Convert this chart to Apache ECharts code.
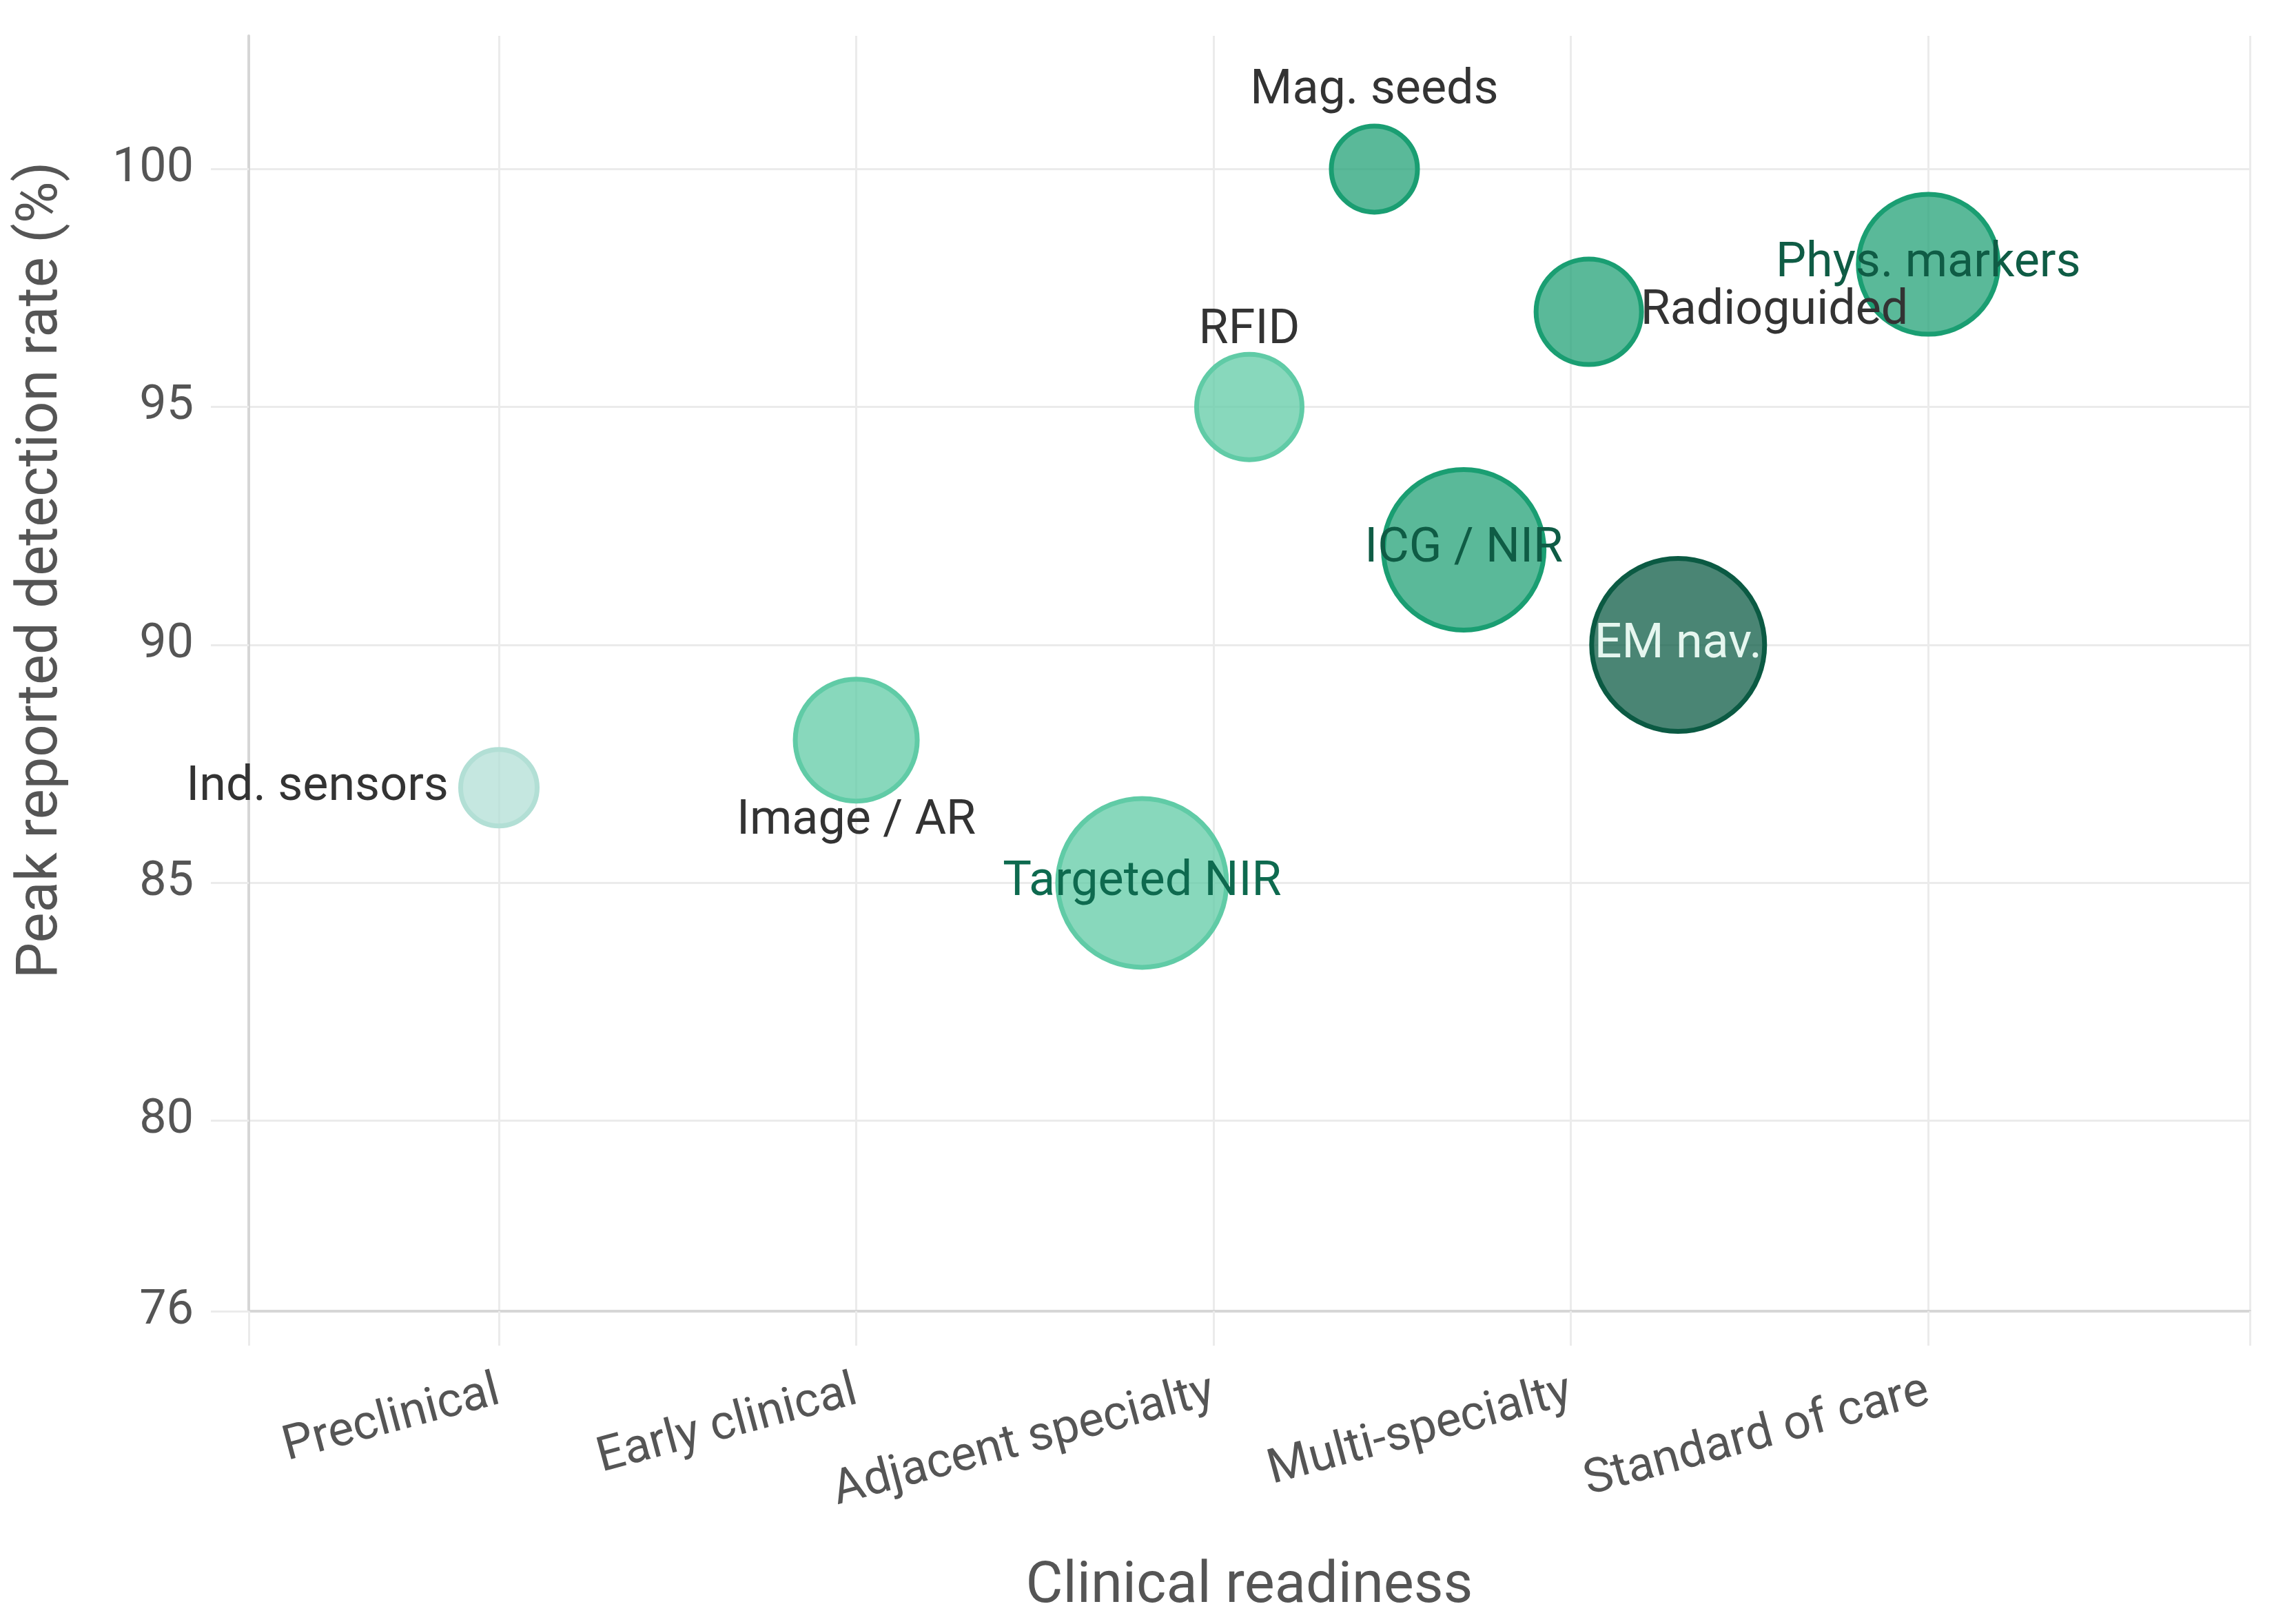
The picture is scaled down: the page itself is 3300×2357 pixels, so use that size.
<!DOCTYPE html>
<html>
<head>
<meta charset="utf-8">
<title>Detection rate vs clinical readiness</title>
<script src="https://cdn.jsdelivr.net/npm/echarts@6/dist/echarts.min.js"></script>
<style>
  html, body { margin: 0; padding: 0; background: #ffffff; }
  #chart { width: 3300px; height: 2357px; }
</style>
</head>
<body>
<div id="chart"></div>
<script>
// Technologies, in drawing order
const techNames = ['Ind. sensors', 'Image / AR', 'Targeted NIR', 'RFID', 'Mag. seeds',
                   'ICG / NIR', 'Radioguided', 'EM nav.', 'Phys. markers'];
// Position on the readiness scale (1 = Preclinical ... 5 = Standard of care)
const readiness = [1.0, 2.0, 2.8, 3.1, 3.45, 3.7, 4.05, 4.3, 5.0];
// Peak reported detection rate (%)
const detection = [87, 88, 85, 95, 100, 92, 97, 90, 98];
// Relative evidence weight (drives bubble size)
const evidence = [11.1, 17.7, 24.5, 15.3, 12.5, 23.3, 15.3, 25.1, 20.3];
// Maturity tier (drives bubble colour)
const maturityTier = [0, 1, 1, 1, 2, 2, 2, 3, 2];

const readinessLabels = ['Preclinical', 'Early clinical', 'Adjacent specialty', 'Multi-specialty', 'Standard of care'];
const readinessTicks = [1, 2, 3, 4, 5];
const detectionTicks = [76, 80, 85, 90, 95, 100];

// --- styling -----------------------------------------------------------
const FONT = 'Roboto';
const tierColor = ['#b2dfd5', '#60cba6', '#1a9e72', '#0b5a43'];
const tierFill  = ['rgba(178,223,213,0.75)', 'rgba(96,203,166,0.75)', 'rgba(26,158,114,0.72)', 'rgba(11,90,67,0.74)'];
const tierInsideText = ['#0e6a4f', '#0e6a4f', '#0f5c45', '#e6f6ef'];
const SIZE_SCALE = 10;
const GRID_COLOR = '#ebebeb';
const AXIS_COLOR = '#d6d6d6';

// where each bubble's label sits, and how far from the bubble
const labelPlacement = {
    'Ind. sensors': ['left', 14],
    'Image / AR': ['bottom', -9],
    'Targeted NIR': ['inside', 0],
    'RFID': ['top', -5],
    'Mag. seeds': ['top', 12],
    'ICG / NIR': ['inside', 0],
    'Radioguided': ['right', -5],
    'EM nav.': ['inside', 0],
    'Phys. markers': ['inside', 0]
};

const points = techNames.map((name, i) => {
    const tier = maturityTier[i];
    const [pos, dist] = labelPlacement[name];
    return {
        name: name,
        value: [readiness[i], detection[i], evidence[i]],
        itemStyle: {
            color: tierFill[tier],
            borderColor: tierColor[tier],
            borderWidth: 7,
            opacity: 1
        },
        label: {
            position: pos,
            distance: dist,
            color: pos === 'inside' ? tierInsideText[tier] : '#333333'
        }
    };
});

const chart = echarts.init(document.getElementById('chart'), null, { renderer: 'canvas' });

const option = {
    animation: false,
    backgroundColor: '#ffffff',
    grid: {
        left: 361,
        right: 35,
        top: 52,
        bottom: 454,
        containLabel: false,
        outerBoundsMode: 'none'
    },
    xAxis: {
        type: 'value',
        min: 0.3,
        max: 5.9,
        name: 'Clinical readiness',
        nameLocation: 'middle',
        nameGap: 360,
        nameTextStyle: { fontFamily: FONT, fontSize: 83, color: '#555555' },
        axisLine: { show: true, lineStyle: { color: AXIS_COLOR, width: 4 } },
        axisTick: {
            show: true,
            customValues: [0.3].concat(readinessTicks, [5.9]),
            length: 50,
            lineStyle: { color: GRID_COLOR, width: 3 }
        },
        axisLabel: {
            customValues: readinessTicks,
            formatter: v => readinessLabels[Math.round(v) - 1] || '',
            rotate: 15,
            margin: 116,
            fontFamily: FONT,
            fontSize: 70,
            color: '#555555'
        },
        splitLine: { show: true, lineStyle: { color: GRID_COLOR, width: 3 } }
    },
    yAxis: {
        type: 'value',
        min: 76,
        max: 102.8,
        name: 'Peak reported detection rate (%)',
        nameLocation: 'middle',
        nameRotate: 90,
        nameGap: 258,
        nameTextStyle: { fontFamily: FONT, fontSize: 83, color: '#555555', padding: [0, 0, 0, 300] },
        axisLine: { show: true, lineStyle: { color: AXIS_COLOR, width: 4 } },
        axisTick: {
            show: true,
            customValues: detectionTicks,
            length: 55,
            lineStyle: { color: GRID_COLOR, width: 3 }
        },
        axisLabel: {
            customValues: detectionTicks,
            margin: 80,
            fontFamily: FONT,
            fontSize: 70,
            color: '#555555'
        },
        splitLine: { show: true, lineStyle: { color: GRID_COLOR, width: 3 } }
    },
    series: [{
        type: 'scatter',
        symbol: 'circle',
        symbolSize: v => v[2] * SIZE_SCALE,
        data: points,
        itemStyle: { opacity: 1 },
        label: {
            show: true,
            formatter: p => p.name,
            fontFamily: FONT,
            fontSize: 70
        },
        emphasis: { disabled: true }
    }]
};

chart.setOption(option);
</script>
</body>
</html>
